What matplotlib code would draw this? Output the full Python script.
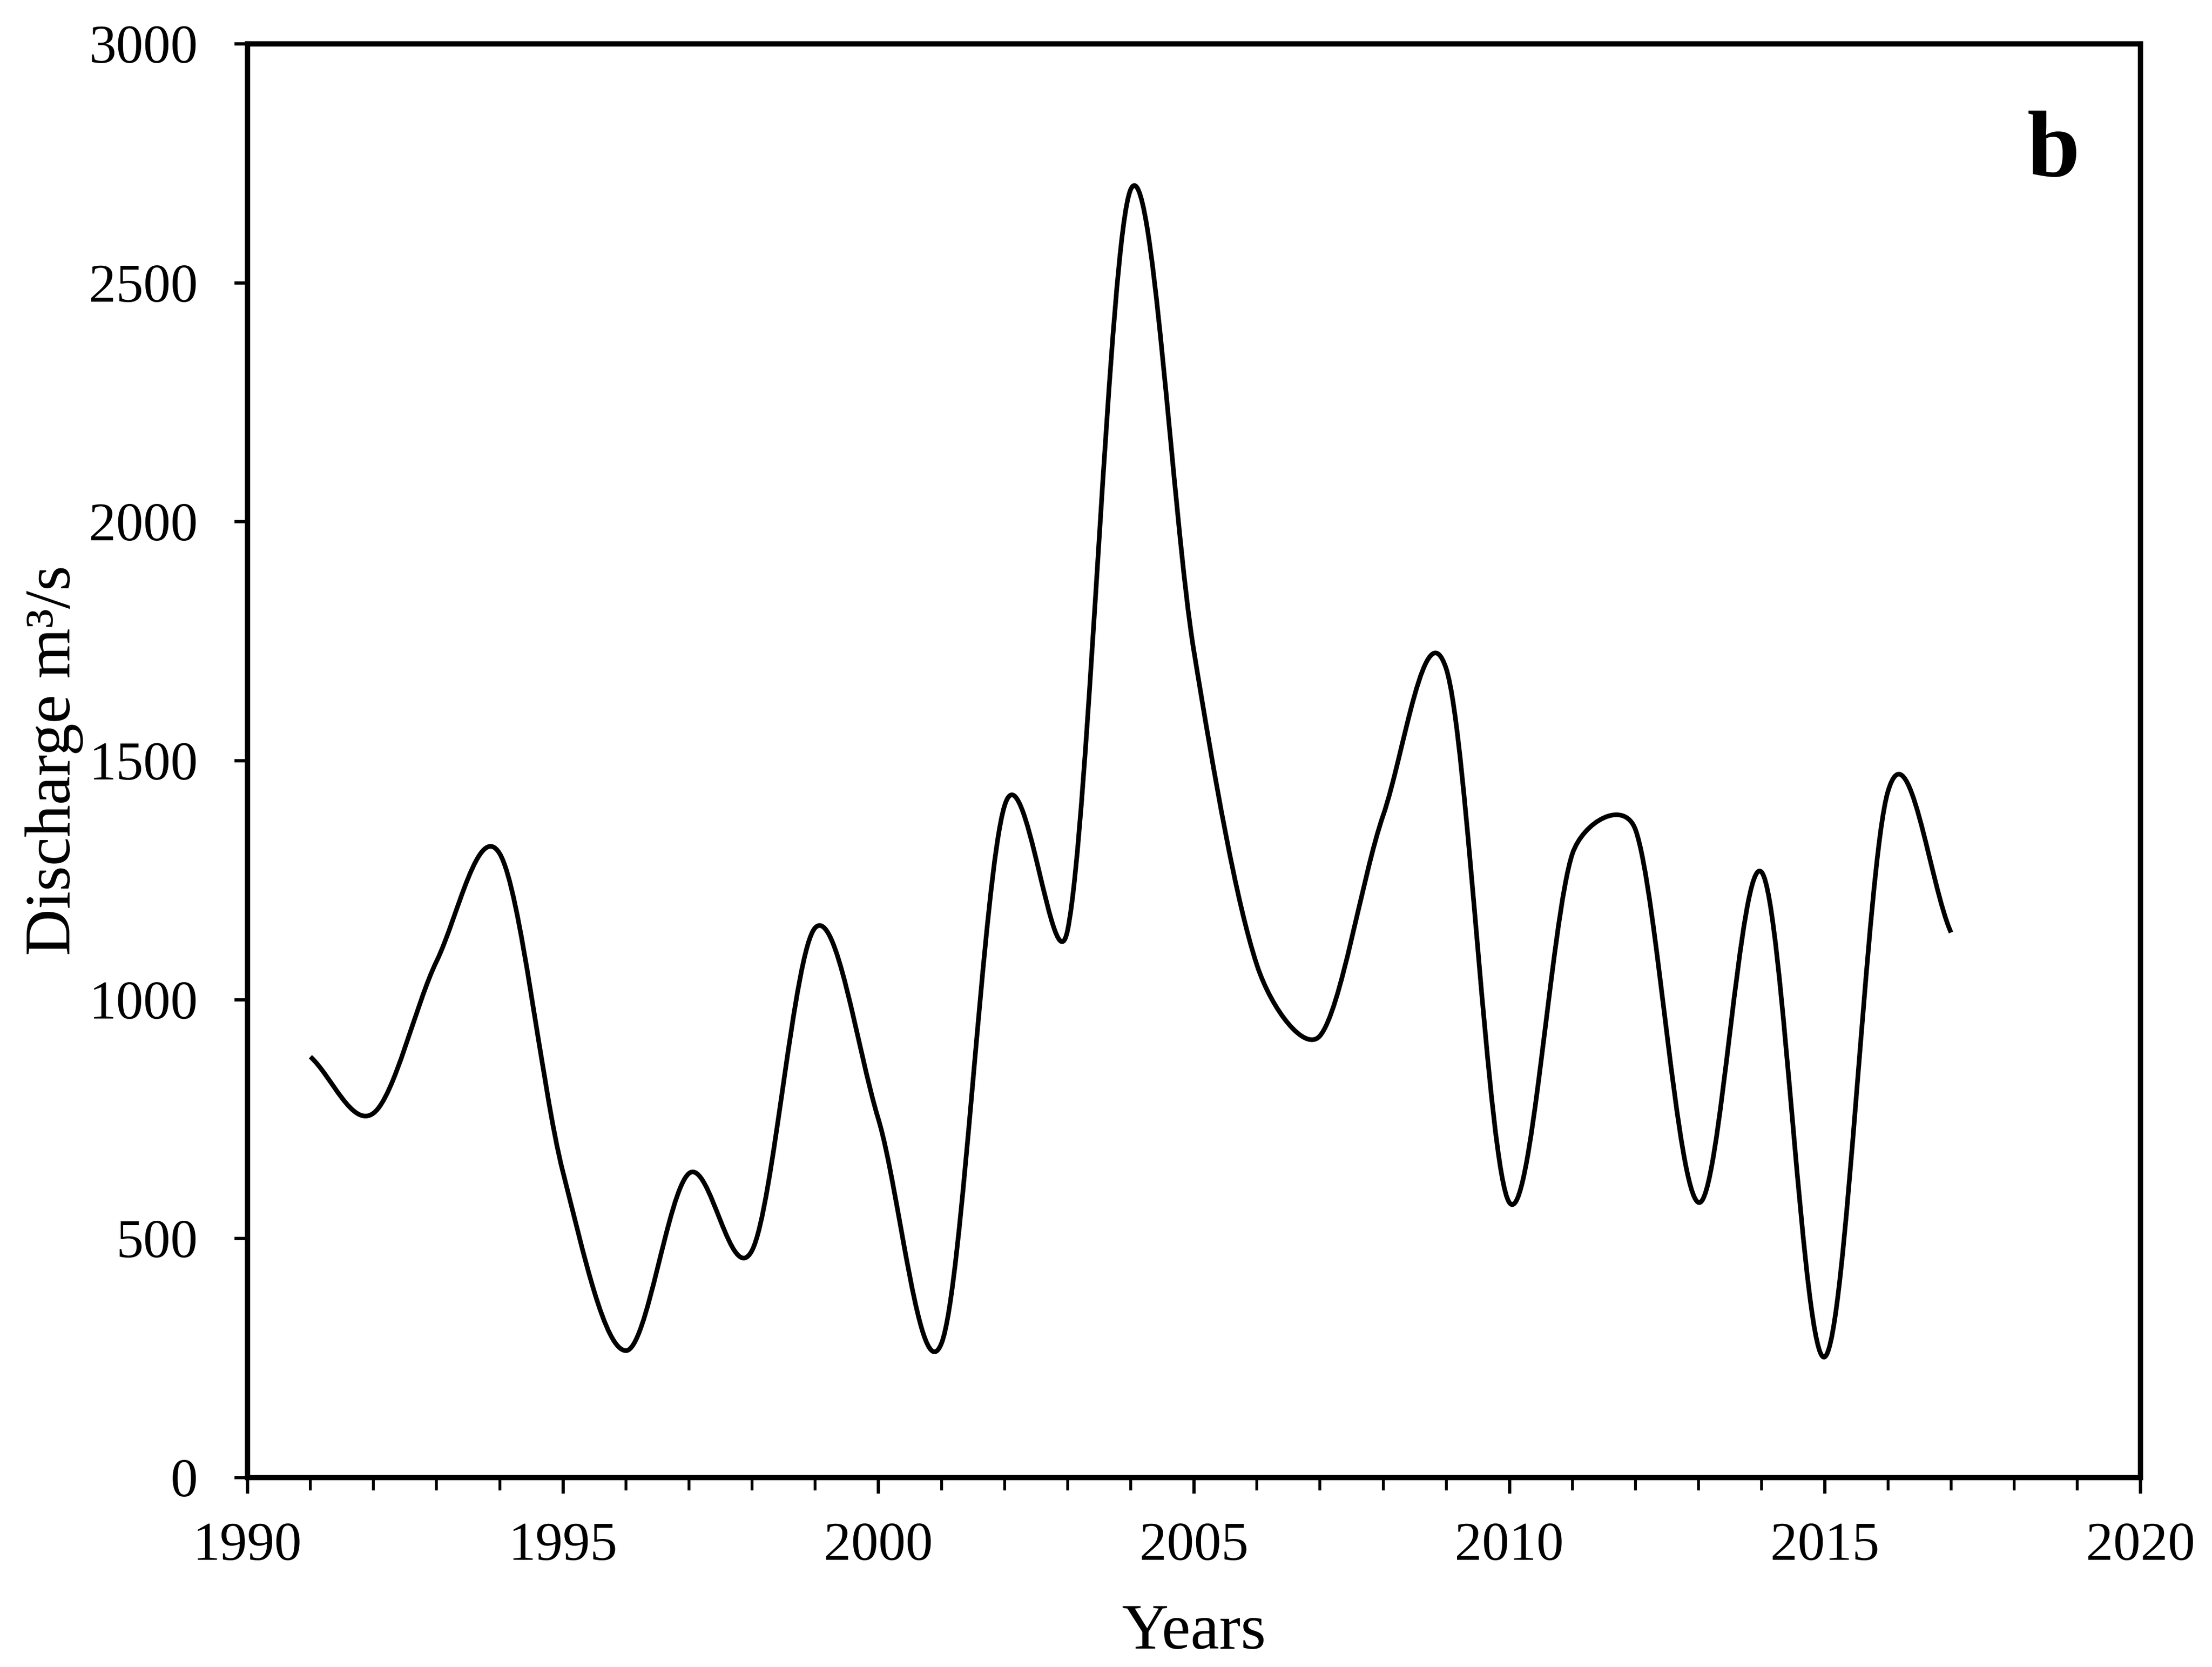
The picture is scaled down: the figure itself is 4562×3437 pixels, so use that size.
import matplotlib
matplotlib.use("Agg")
import matplotlib.pyplot as plt
import numpy as np
from matplotlib.path import Path
from matplotlib.patches import PathPatch
from matplotlib.ticker import MultipleLocator

# ── Data (annual discharge, m3/s) ──
years = [1991, 1992, 1993, 1994, 1995, 1996, 1997, 1998, 1999, 2000,
         2001, 2002, 2003, 2004, 2005, 2006, 2007, 2008, 2009, 2010,
         2011, 2012, 2013, 2014, 2015, 2016, 2017]
discharge = [880, 762, 1080, 1305, 640, 265, 636, 475, 1150, 750,
             280, 1405, 1145, 2695, 1730, 1072, 924, 1385, 1692, 575,
             1305, 1355, 575, 1266, 252, 1435, 1140]

plt.rcParams.update({
    "font.family": ["Liberation Serif", "DejaVu Serif"],
    "axes.linewidth": 2.6,
})


def smooth_path(ax, xs, ys):
    """Excel-like smoothed line: Catmull-Rom Bezier handles (1/6 of the
    neighbour chord), capped at half the segment length on screen."""
    pts = np.column_stack([xs, ys]).astype(float)
    scr = ax.transData.transform(pts)
    n = len(pts)

    def dist(i, j):
        return np.hypot(*(scr[j] - scr[i]))

    verts = [pts[0]]
    codes = [Path.MOVETO]
    for i in range(n - 1):
        i0 = max(i - 1, 0)
        i3 = min(i + 2, n - 1)
        d12 = dist(i, i + 1)
        d02 = dist(i0, i + 1)
        d13 = dist(i, i3)
        fa = 1 / 6 if i0 != i else 1 / 3
        fb = 1 / 6 if i3 != i + 1 else 1 / 3
        big_a = d02 * fa >= d12 / 2
        big_b = d13 * fb >= d12 / 2
        if big_a and big_b:
            fa = d12 / 2 / d02
            fb = d12 / 2 / d13
        elif big_a:
            fa = d12 / 2 / d02
            fb = d12 / 2 / d02
        elif big_b:
            fa = d12 / 2 / d13
            fb = d12 / 2 / d13
        c1 = pts[i] + (pts[i + 1] - pts[i0]) * fa
        c2 = pts[i + 1] - (pts[i3] - pts[i]) * fb
        verts += [c1, c2, pts[i + 1]]
        codes += [Path.CURVE4] * 3
    return Path(verts, codes)


fig = plt.figure(figsize=(4562 / 300, 3437 / 300), dpi=300)
ax = fig.add_axes([0.1118, 0.1138, 0.8558, 0.86])
ax.set_xlim(1990, 2020)
ax.set_ylim(0, 3000)

patch = PathPatch(smooth_path(ax, years, discharge), facecolor="none",
                  edgecolor="black", linewidth=2.3, capstyle="butt",
                  joinstyle="round")
ax.add_patch(patch)

ax.xaxis.set_major_locator(MultipleLocator(5))
ax.xaxis.set_minor_locator(MultipleLocator(1))
ax.yaxis.set_major_locator(MultipleLocator(500))

ax.tick_params(axis="x", which="major", direction="out", length=8,
               width=1.6, labelsize=27, pad=14)
ax.tick_params(axis="x", which="minor", direction="out", length=6.5,
               width=1.4)
ax.tick_params(axis="y", which="major", direction="out", length=6.5,
               width=1.6, labelsize=27, pad=18)

ax.set_xlabel("Years", fontsize=32)
ax.set_ylabel("Discharge m³/s", fontsize=32)
ax.xaxis.set_label_coords(0.5, -0.1086)
ax.yaxis.set_label_coords(-0.102, 0.5)
ax.xaxis.label.set_va("center")
ax.yaxis.label.set_va("center")

ax.text(0.954, 0.9076, "b", transform=ax.transAxes, fontsize=47,
        fontweight="bold", ha="center", va="baseline")

fig.savefig("out.png", dpi=300, facecolor="white")
